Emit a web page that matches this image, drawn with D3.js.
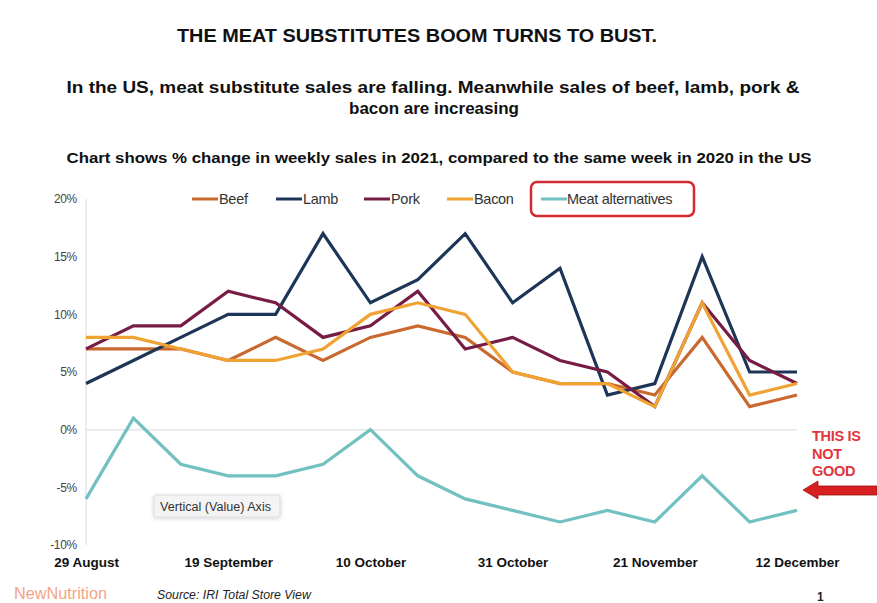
<!DOCTYPE html>
<html>
<head>
<meta charset="utf-8">
<script src="https://cdn.jsdelivr.net/npm/d3@7"></script>
<style>
  html, body { margin: 0; padding: 0; background: #fff; }
  svg { display: block; font-family: "Liberation Sans", Arial, sans-serif; }
</style>
</head>
<body>
<svg id="chart" width="877" height="603"></svg>
<script>
const weeks = ["29 August","5 September","12 September","19 September","26 September","3 October","10 October","17 October","24 October","31 October","7 November","14 November","21 November","28 November","5 December","12 December"];
const xTickLabels = ["29 August","19 September","10 October","31 October","21 November","12 December"];
const yTicks = [-10, -5, 0, 5, 10, 15, 20];

const beef     = [7, 7, 7, 6, 8, 6, 8, 9, 8, 5, 4, 4, 3, 8, 2, 3];
const lamb     = [4, 6, 8, 10, 10, 17, 11, 13, 17, 11, 14, 3, 4, 15, 5, 5];
const pork     = [7, 9, 9, 12, 11, 8, 9, 12, 7, 8, 6, 5, 2, 11, 6, 4];
const bacon    = [8, 8, 7, 6, 6, 7, 10, 11, 10, 5, 4, 4, 2, 11, 3, 4];
const meatAlt  = [-6, 1, -3, -4, -4, -3, 0, -4, -6, -7, -8, -7, -8, -4, -8, -7];

const seriesNames  = ["Beef", "Lamb", "Pork", "Bacon", "Meat alternatives"];
const seriesValues = [beef, lamb, pork, bacon, meatAlt];
const seriesColors = ["#c9692f", "#1d3658", "#761c45", "#f0a232", "#72c0c0"];

const svg = d3.select("#chart");

// Titles
svg.append("text").attr("x", 417).attr("y", 42).attr("text-anchor", "middle")
  .attr("font-weight", "bold").attr("font-size", 18.5).attr("fill", "#111")
  .attr("textLength", 480).attr("lengthAdjust", "spacingAndGlyphs")
  .text("THE MEAT SUBSTITUTES BOOM TURNS TO BUST.");
svg.append("text").attr("x", 433).attr("y", 93).attr("text-anchor", "middle")
  .attr("font-weight", "bold").attr("font-size", 16.5).attr("fill", "#111")
  .attr("textLength", 733).attr("lengthAdjust", "spacingAndGlyphs")
  .text("In the US, meat substitute sales are falling. Meanwhile sales of beef, lamb, pork &");
svg.append("text").attr("x", 434).attr("y", 114).attr("text-anchor", "middle")
  .attr("font-weight", "bold").attr("font-size", 16.5).attr("fill", "#111")
  .attr("textLength", 170).attr("lengthAdjust", "spacingAndGlyphs")
  .text("bacon are increasing");
svg.append("text").attr("x", 439).attr("y", 163).attr("text-anchor", "middle")
  .attr("font-weight", "bold").attr("font-size", 14.5).attr("fill", "#111")
  .attr("textLength", 745).attr("lengthAdjust", "spacingAndGlyphs")
  .text("Chart shows % change in weekly sales in 2021, compared to the same week in 2020 in the US");

// Scales
const x = d3.scalePoint().domain(weeks).range([86, 797]);
const y = d3.scaleLinear().domain([-10, 20]).range([545, 199]);

// Axis line & zero line
svg.append("line").attr("x1", 86).attr("x2", 86).attr("y1", y(20)).attr("y2", y(-10))
  .attr("stroke", "#e2e2e2").attr("stroke-width", 1.2);
svg.append("line").attr("x1", 86).attr("x2", 797).attr("y1", y(0)).attr("y2", y(0))
  .attr("stroke", "#e6e6e6").attr("stroke-width", 1.5);

// Y axis
const yAxis = svg.append("g").attr("transform", "translate(77,0)")
  .call(d3.axisLeft(y).tickValues(yTicks).tickFormat(d => d + "%").tickSize(0).tickPadding(0));
yAxis.select(".domain").remove();
yAxis.selectAll("text").attr("font-size", 12).attr("fill", "#444")
  .attr("font-family", "'Liberation Sans', Arial, sans-serif").attr("letter-spacing", "-0.3");

// X axis
const xAxis = svg.append("g").attr("transform", "translate(0,554)")
  .call(d3.axisBottom(x).tickValues(xTickLabels).tickSize(0).tickPadding(0));
xAxis.select(".domain").remove();
xAxis.selectAll("text").attr("font-size", 13.5).attr("font-weight", "bold").attr("fill", "#111")
  .attr("font-family", "'Liberation Sans', Arial, sans-serif").attr("dy", "0.95em");

// Lines
const line = d3.line().x((d, i) => x(weeks[i])).y(d => y(d));
seriesValues.forEach((vals, k) => {
  svg.append("path").datum(vals).attr("d", line)
    .attr("fill", "none").attr("stroke", seriesColors[k]).attr("stroke-width", 3.2)
    .attr("stroke-linejoin", "miter").attr("stroke-linecap", "butt");
});

// Legend
const legendY = 199;
const legendItems = [
  {x1: 192, x2: 218, tx: 219},
  {x1: 276, x2: 302, tx: 303},
  {x1: 364, x2: 390, tx: 391},
  {x1: 447, x2: 473, tx: 474},
  {x1: 541, x2: 567, tx: 567}
];
svg.append("rect").attr("x", 531).attr("y", 182).attr("width", 163).attr("height", 34)
  .attr("rx", 6).attr("fill", "none").attr("stroke", "#d42a30").attr("stroke-width", 2.5);
legendItems.forEach((it, k) => {
  svg.append("line").attr("x1", it.x1).attr("x2", it.x2).attr("y1", legendY).attr("y2", legendY)
    .attr("stroke", seriesColors[k]).attr("stroke-width", 3);
  svg.append("text").attr("x", it.tx).attr("y", legendY + 5).attr("font-size", 14.5)
    .attr("fill", "#333").attr("letter-spacing", "-0.3").text(seriesNames[k]);
});

// Tooltip box
const defs = svg.append("defs");
const f = defs.append("filter").attr("id", "sh").attr("x", "-20%").attr("y", "-40%").attr("width", "140%").attr("height", "180%");
f.append("feDropShadow").attr("dx", 0).attr("dy", 1).attr("stdDeviation", 2).attr("flood-color", "#000").attr("flood-opacity", 0.18);
svg.append("rect").attr("x", 154).attr("y", 495).attr("width", 126).attr("height", 22).attr("rx", 2)
  .attr("fill", "#f4f4f4").attr("stroke", "#dcdcdc").attr("filter", "url(#sh)");
svg.append("text").attr("x", 160).attr("y", 510.5).attr("font-size", 12).attr("fill", "#333")
  .attr("textLength", 111).attr("lengthAdjust", "spacingAndGlyphs")
  .text("Vertical (Value) Axis");

// Annotation
const ann = ["THIS IS", "NOT", "GOOD"];
ann.forEach((t, i) => {
  svg.append("text").attr("x", 812).attr("y", 441 + i * 17.5).attr("font-size", 14.5)
    .attr("font-weight", "bold").attr("fill", "#e0353c").attr("letter-spacing", "-0.3").text(t);
});
svg.append("path")
  .attr("d", "M803,490 L818,481 L818,486 L877,486 L877,495 L818,495 L818,499 Z")
  .attr("fill", "#d81f22").attr("stroke", "#a01010").attr("stroke-width", 0.8);

// Footer
svg.append("text").attr("x", 14).attr("y", 599).attr("font-size", 16).attr("fill", "#f2a586")
  .attr("textLength", 93).attr("lengthAdjust", "spacingAndGlyphs")
  .text("NewNutrition");
svg.append("text").attr("x", 157).attr("y", 599).attr("font-size", 12.3).attr("font-style", "italic")
  .attr("fill", "#222").text("Source: IRI Total Store View");
svg.append("text").attr("x", 817).attr("y", 601).attr("font-size", 12).attr("font-weight", "bold")
  .attr("fill", "#222").text("1");
</script>
</body>
</html>
